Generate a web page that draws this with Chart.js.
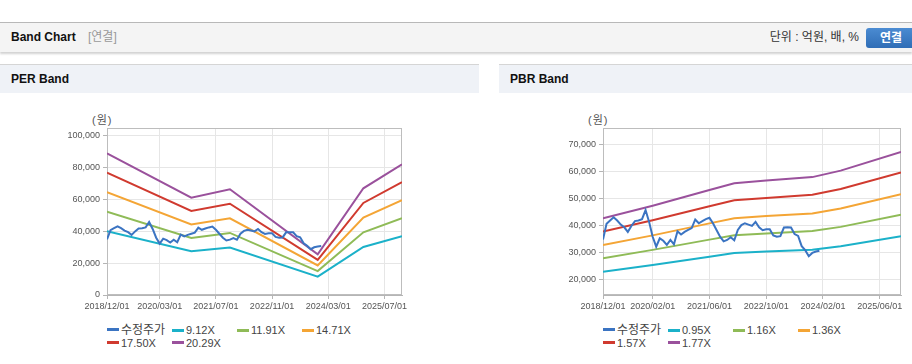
<!DOCTYPE html>
<html>
<head>
<meta charset="utf-8">
<script src="https://cdn.jsdelivr.net/npm/chart.js@4"></script>
<style>
  body { margin: 0; width: 912px; height: 364px; overflow: hidden; background: #fff; position: relative;
         font-family: "Liberation Sans", "Noto Sans CJK KR", sans-serif; color: #333; }
  .abs { position: absolute; }
  .topline { left: 0; top: 22px; width: 912px; height: 1px; background: #b8b8b8; }
  .header { left: 0; top: 23px; width: 912px; height: 29px; background: #f4f4f4; box-shadow: 0 2px 2px rgba(0,0,0,0.18); }
  .title { left: 11px; top: 23px; line-height: 29px; font-size: 12px; font-weight: bold; color: #111; }
  .sub { left: 88px; top: 23px; line-height: 29px; font-size: 12px; color: #999; }
  .unit { right: 53px; top: 23px; line-height: 29px; font-size: 12px; color: #333; }
  .btn { left: 866px; top: 28px; width: 50px; height: 20px; line-height: 20px; border-radius: 3px; text-align: center;
         background: linear-gradient(#4b8bd2, #2f6db6); color: #fff; font-size: 12px; font-weight: bold; }
  .phead { top: 64px; height: 28px; border-top: 1px solid #d5d5d5; background: #eff2f7; }
  .phead span { position: absolute; left: 11px; line-height: 28px; font-size: 12px; font-weight: bold; color: #111; }
  .unitlbl { top: 111px; font-size: 11px; color: #555; letter-spacing: 1px; }
  .legend { top: 324px; width: 270px; font-size: 11px; line-height: 12.5px; color: #444; }
  .legend div { display: inline-block; width: 65px; white-space: nowrap; }
  .legend div:first-child { font-size: 12px; }
  .legend i { display: inline-block; width: 12px; height: 3px; margin-right: 2px; vertical-align: middle; position: relative; top: -1px; }
</style>
</head>
<body>
<div class="abs topline"></div>
<div class="abs header"></div>
<div class="abs title">Band Chart</div>
<div class="abs sub">[연결]</div>
<div class="abs unit">단위 : 억원, 배, %</div>
<div class="abs btn">연결</div>

<div class="abs phead" style="left:0;width:479px"><span>PER Band</span></div>
<div class="abs phead" style="left:499px;width:413px"><span>PBR Band</span></div>

<div class="abs unitlbl" style="left:92px">(원)</div>
<div class="abs unitlbl" style="left:588px">(원)</div>

<canvas id="per" class="abs" width="380" height="220" style="left:40px;top:100px"></canvas>
<canvas id="pbr" class="abs" width="382" height="220" style="left:530px;top:100px"></canvas>

<div id="perLegend" class="abs legend" style="left:107px"></div>
<div id="pbrLegend" class="abs legend" style="left:603px"></div>

<script>
// x positions are months counted from 2018/12/01
const perTickMonths = [0, 15, 31, 47, 63, 79];
const perTickLabels = ["2018/12/01", "2020/03/01", "2021/07/01", "2022/11/01", "2024/03/01", "2025/07/01"];
const pbrTickMonths = [0, 14, 30, 46, 62, 78];
const pbrTickLabels = ["2018/12/01", "2020/02/01", "2021/06/01", "2022/10/01", "2024/02/01", "2025/06/01"];

const perYTicks = [0, 20000, 40000, 60000, 80000, 100000];
const pbrYTicks = [20000, 30000, 40000, 50000, 60000, 70000];

// 수정주가, monthly from 2018/12
const price = [
  35000, 40800, 42000, 43200, 42000, 40500, 39500, 37800, 40000, 41800,
  42000, 42500, 45900, 41500, 36000, 32300, 35400, 34500, 33000, 34800,
  33200, 38000, 36800, 37800, 38500, 39200, 42400, 41000, 41800, 42500,
  43000, 41000, 38500, 36000, 34300, 34800, 35800, 34700, 38500, 40300,
  41000, 40500, 40000, 41500, 39500, 38400, 38800, 38800, 36500, 36000,
  36200, 39400, 39500, 39400, 37000, 36300, 32500, 31000, 28800, 30000,
  30500, 30800
];

const perBandMonths = [0, 24, 35, 60, 73, 84];
const per912 = [40050, 27510, 29890, 11510, 30160, 36950];
const per1191 = [52300, 35920, 39030, 15030, 39390, 48250];
const per1471 = [64600, 44370, 48210, 18560, 48650, 59600];
const per1750 = [76900, 52800, 57360, 22080, 57870, 70900];
const per2029 = [89100, 61200, 66500, 25600, 67100, 82200];

const pbrBandMonths = [0, 14, 30, 37, 46, 59, 67, 84];
const pbr095 = [22970, 25490, 28610, 29950, 30480, 31180, 32470, 36170];
const pbr116 = [28050, 31130, 34930, 36570, 37230, 38080, 39650, 44170];
const pbr136 = [32890, 36500, 40950, 42880, 43640, 44640, 46490, 51790];
const pbr157 = [37960, 42130, 47280, 49490, 50380, 51530, 53660, 59780];
const pbr177 = [42800, 47500, 53300, 55800, 56800, 58100, 60500, 67400];

const colors = ["#3b74c2", "#1bb1c9", "#8fbb57", "#f4a535", "#d03a2f", "#9a519c"];

Chart.defaults.font.family = '"Liberation Sans", "Noto Sans CJK KR", sans-serif';

const frame = {
  id: "frame",
  beforeDatasetsDraw(chart) {
    const a = chart.chartArea, c = chart.ctx;
    c.save();
    c.strokeStyle = "#bdbdbd";
    c.lineWidth = 1;
    c.strokeRect(a.left + 0.5, a.top + 0.5, a.right - a.left - 1, a.bottom - a.top - 1);
    c.restore();
  }
};

function pts(months, values) {
  return values.map((v, i) => ({ x: months[i], y: v }));
}

function bandChart(id, names, series, tickMonths, tickLabels, yTicks, yMin, yMax, yWidth, padRight, legendId) {
  const datasets = series.map((s, i) => ({
    label: names[i],
    data: s,
    borderColor: colors[i],
    borderWidth: 2,
    pointRadius: 0,
    tension: 0,
    fill: false
  }));
  new Chart(document.getElementById(id), {
    type: "line",
    data: { datasets },
    plugins: [frame],
    options: {
      responsive: false,
      animation: false,
      devicePixelRatio: 1,
      layout: { padding: { top: 28, right: padRight, left: 0, bottom: 0 } },
      plugins: { legend: { display: false }, tooltip: { enabled: false } },
      scales: {
        x: {
          type: "linear",
          min: 0,
          max: 84,
          afterBuildTicks: s => { s.ticks = tickMonths.map(v => ({ value: v })); },
          afterFit: s => { s.height = 25; },
          ticks: {
            autoSkip: false, maxRotation: 0, padding: 2, color: "#555",
            font: { size: 9 },
            callback: (v, i) => tickLabels[i]
          },
          grid: { color: "#e6e6e6", tickColor: "#b5b5b5", tickLength: 4 },
          border: { color: "#b5b5b5" }
        },
        y: {
          min: yMin,
          max: yMax,
          afterBuildTicks: s => { s.ticks = yTicks.map(v => ({ value: v })); },
          afterFit: s => { s.width = yWidth; },
          ticks: {
            padding: 3, color: "#555",
            font: { size: 9 },
            callback: v => v.toLocaleString("en-US")
          },
          grid: { color: "#e6e6e6", tickColor: "#b5b5b5", tickLength: 4 },
          border: { color: "#b5b5b5" }
        }
      }
    }
  });
  document.getElementById(legendId).innerHTML = names
    .map((n, i) => '<div><i style="background:' + colors[i] + '"></i>' + n + "</div>")
    .join("");
}

const priceData = price.map((v, i) => ({ x: i, y: v }));

bandChart("per",
  ["수정주가", "9.12X", "11.91X", "14.71X", "17.50X", "20.29X"],
  [priceData, pts(perBandMonths, per912), pts(perBandMonths, per1191), pts(perBandMonths, per1471),
   pts(perBandMonths, per1750), pts(perBandMonths, per2029)],
  perTickMonths, perTickLabels, perYTicks, 0, 105000, 67, 18, "perLegend");

bandChart("pbr",
  ["수정주가", "0.95X", "1.16X", "1.36X", "1.57X", "1.77X"],
  [priceData, pts(pbrBandMonths, pbr095), pts(pbrBandMonths, pbr116), pts(pbrBandMonths, pbr136),
   pts(pbrBandMonths, pbr157), pts(pbrBandMonths, pbr177)],
  pbrTickMonths, pbrTickLabels, pbrYTicks, 14400, 76300, 73, 11, "pbrLegend");
</script>
</body>
</html>
